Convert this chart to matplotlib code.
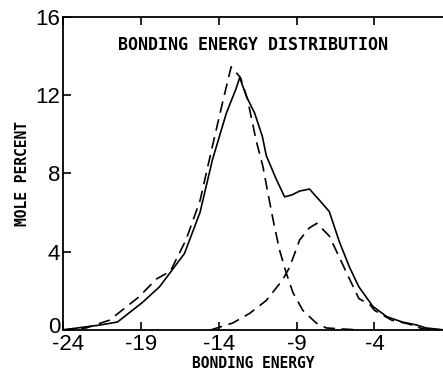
import matplotlib
matplotlib.use('Agg')
import matplotlib.pyplot as plt
import matplotlib.transforms as mtransforms

plt.rcParams['axes.unicode_minus'] = False

# total distribution (solid)
total_x = [-24, -21.6, -20.5, -18.9, -17.8, -16.2, -15.2, -14.4, -13.5, -12.9, -12.65,
           -12.2, -11.7, -11.2, -10.94, -10.3, -9.77, -9.3, -8.8, -8.17, -7.5, -6.9,
           -6.25, -5.6, -5.0, -4.1, -3.2, -2.2, -1.3, -0.7, 0.4]
total_y = [0, 0.25, 0.4, 1.4, 2.2, 3.9, 6.0, 8.7, 11.1, 12.3, 12.9,
           11.9, 11.1, 9.9, 8.9, 7.7, 6.8, 6.9, 7.1, 7.2, 6.6, 6.05,
           4.5, 3.2, 2.2, 1.2, 0.67, 0.4, 0.25, 0.1, 0]

# main component (dashed)
comp1_x = [-24, -22.5, -21, -19.1, -18, -17.1, -16.1, -15.2, -14.4, -13.7, -13.2,
           -12.6, -12.15, -11.6, -11.16, -10.84, -10.5, -10.1, -9.66, -9.23, -8.6,
           -7.74, -7.1, -6.2, -5.0]
comp1_y = [0, 0.1, 0.5, 1.7, 2.6, 3.0, 4.6, 6.6, 9.4, 11.8, 13.45,
           12.9, 11.8, 9.7, 8.35, 7.0, 5.6, 4.1, 2.9, 1.9, 1.0,
           0.35, 0.1, 0.05, 0]

# second component (dashed)
comp2_x = [-14.5, -13.1, -12.0, -10.95, -9.9, -9.45, -8.8, -8.2, -7.7, -6.9, -6.25,
           -5.6, -5.0, -4.3, -4.0, -2.9, -1.8, -0.9, 0.4]
comp2_y = [0, 0.35, 0.85, 1.5, 2.55, 3.2, 4.6, 5.2, 5.45, 4.8, 3.7,
           2.6, 1.6, 1.3, 1.0, 0.5, 0.3, 0.05, 0]

XTICKS = [-24, -19, -14, -9, -4]
YTICKS = [0, 4, 8, 12, 16]

fig = plt.figure(figsize=(4.43, 3.77), dpi=100)
ax = fig.add_axes([0.142, 0.125, 0.858, 0.830])

ax.plot(total_x, total_y, color='black', linewidth=1.2)
ax.plot(comp1_x, comp1_y, color='black', linewidth=1.2, linestyle=(0, (7, 4)))
ax.plot(comp2_x, comp2_y, color='black', linewidth=1.2, linestyle=(0, (7, 4)))

ax.set_xlim(-24, 0.4)
ax.set_ylim(0, 16)
ax.set_xticks(XTICKS)
ax.set_yticks(YTICKS)
ax.tick_params(direction='in', length=6, width=1.2, top=True, labelsize=16, pad=2)
ax.tick_params(axis='x', pad=3)
for lbl in ax.get_xticklabels() + ax.get_yticklabels():
    lbl.set_family('Liberation Sans')
ax.spines['right'].set_visible(False)
for s in ['left', 'top', 'bottom']:
    ax.spines[s].set_linewidth(1.3)

# corner labels: "0" a bit up, "-24" a bit right, as in the original
zero_lbl = ax.get_yticklabels()[0]
zero_lbl.set_transform(zero_lbl.get_transform() +
                       mtransforms.ScaledTranslation(0, 5 / 100, fig.dpi_scale_trans))
first_x = ax.get_xticklabels()[0]
first_x.set_transform(first_x.get_transform() +
                      mtransforms.ScaledTranslation(5 / 100, 0, fig.dpi_scale_trans))

ax.text(0.5, 0.91, 'BONDING ENERGY DISTRIBUTION', transform=ax.transAxes,
        ha='center', va='center', fontsize=12, family='DejaVu Sans Mono', fontweight='bold')
ax.set_xlabel('BONDING ENERGY', fontsize=10.5, family='DejaVu Sans Mono',
              fontweight='bold', labelpad=1)
ax.set_ylabel('MOLE PERCENT', fontsize=10.5, family='DejaVu Sans Mono',
              fontweight='bold', labelpad=4)

plt.savefig('out.png', dpi=100)
